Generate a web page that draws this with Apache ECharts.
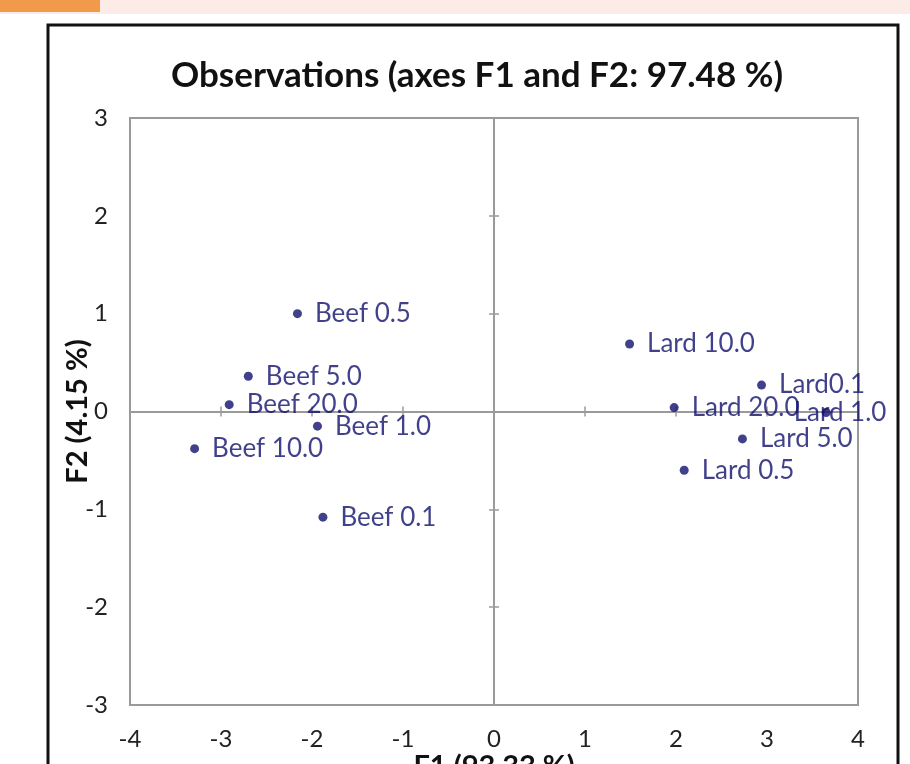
<!DOCTYPE html>
<html>
<head>
<meta charset="utf-8">
<script src="https://cdn.jsdelivr.net/npm/echarts@6/dist/echarts.min.js"></script>
<style>
  html, body { margin: 0; padding: 0; background: #fff; }
  #chart { width: 910px; height: 764px; }
</style>
</head>
<body>
<div id="chart"></div>
<script>
// observations
var names = ['Beef 0.5', 'Beef 5.0', 'Beef 20.0', 'Beef 1.0', 'Beef 10.0', 'Beef 0.1',
  'Lard 10.0', 'Lard0.1', 'Lard 20.0', 'Lard 1.0', 'Lard 5.0', 'Lard 0.5']
var f1 = [-2.16, -2.70, -2.91, -1.94, -3.29, -1.88, 1.49, 2.94, 1.98, 3.65, 2.73, 2.09]
var f2 = [1.00, 0.36, 0.07, -0.15, -0.38, -1.08, 0.69, 0.27, 0.04, -0.01, -0.28, -0.60]

var xTicks = [-4, -3, -2, -1, 0, 1, 2, 3, 4]
var yTicks = [-3, -2, -1, 0, 1, 2, 3]

var font = 'Lato, "Open Sans", sans-serif'
var grey = '#9a9a9a'
var navy = '#12126e'

var points = names.map(function (n, i) {
  return { name: n, value: [f1[i], f2[i]] }
})

// zero-crossing axes: one draws ticks one way, the other the opposite way
function zeroAxis(ticks, inside) {
  return {
    type: 'value', min: ticks[0], max: ticks[ticks.length - 1], interval: 1,
    axisLine: { show: true, onZero: true, onZeroAxisIndex: 0, lineStyle: { color: grey, width: 2 } },
    axisTick: { show: true, inside: inside, length: 5, lineStyle: { color: grey, width: 1.5 } },
    axisLabel: { show: false }, splitLine: { show: false }
  }
}

var chart = echarts.init(document.getElementById('chart'), null, { renderer: 'canvas' })
chart.setOption({
  animation: false,
  backgroundColor: '#fff',
  textStyle: { fontFamily: font },
  graphic: [
    { type: 'rect', shape: { x: 0, y: 0, width: 910, height: 14 }, style: { fill: '#fcebe6' }, silent: true },
    { type: 'rect', shape: { x: 0, y: 0, width: 100, height: 12 }, style: { fill: '#f29a4c' }, silent: true },
    { type: 'rect', shape: { x: 48, y: 25, width: 850, height: 780 }, style: { fill: 'none', stroke: '#111', lineWidth: 3 }, silent: true, z: 100 }
  ],
  title: {
    text: 'Observations (axes F1 and F2: 97.48 %)',
    left: 472, top: 53, textAlign: 'center',
    textStyle: { fontFamily: font, fontSize: 35, fontWeight: 'bold', color: '#111' }
  },
  grid: {
    left: 130, right: 52, top: 118, bottom: 59,
    outerBoundsMode: 'none', containLabel: false,
    show: true, borderColor: grey, borderWidth: 2, backgroundColor: 'transparent'
  },
  xAxis: [{
    type: 'value', position: 'bottom', min: xTicks[0], max: xTicks[xTicks.length - 1], interval: 1,
    name: 'F1 (93.33 %)', nameLocation: 'middle', nameGap: 47, nameMoveOverlap: false,
    nameTextStyle: { fontFamily: font, fontSize: 29, fontWeight: 'bold', color: '#111' },
    axisLine: { show: false, onZero: false }, axisTick: { show: false }, splitLine: { show: false },
    axisLabel: { margin: 22, fontSize: 24, color: '#222', fontFamily: font }
  }, zeroAxis(xTicks, false), zeroAxis(xTicks, true)],
  yAxis: [{
    type: 'value', position: 'left', min: yTicks[0], max: yTicks[yTicks.length - 1], interval: 1,
    name: 'F2 (4.15 %)', nameLocation: 'middle', nameGap: 38, nameRotate: 90, nameMoveOverlap: false,
    nameTextStyle: { fontFamily: font, fontSize: 29, fontWeight: 'bold', color: '#111' },
    axisLine: { show: false, onZero: false }, axisTick: { show: false }, splitLine: { show: false },
    axisLabel: { margin: 22, fontSize: 24, color: '#222', fontFamily: font }
  }, zeroAxis(yTicks, false), zeroAxis(yTicks, true)],
  series: [{
    type: 'scatter',
    xAxisIndex: 0, yAxisIndex: 0,
    symbol: 'circle', symbolSize: 9,
    itemStyle: { color: navy },
    z: 10,
    label: {
      show: true, position: 'right', distance: 13, offset: [0, 4],
      formatter: '{b}', fontFamily: font, fontSize: 26, color: navy
    },
    // the 'Lard 1.0' label was dragged left in the original so it sits over its dot
    labelLayout: function (params) {
      if (names[params.dataIndex] === 'Lard 1.0') return { dx: -50, hideOverlap: false }
      return { hideOverlap: false }
    },
    data: points
  }]
})
</script>
</body>
</html>
